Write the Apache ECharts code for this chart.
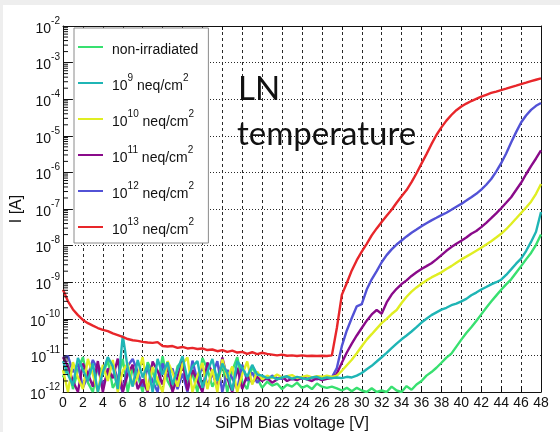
<!DOCTYPE html>
<html>
<head>
<meta charset="utf-8">
<script src="https://cdn.jsdelivr.net/npm/echarts@6/dist/echarts.min.js"></script>
<style>
  html, body { margin: 0; padding: 0; background: #fff; }
  #chart { width: 560px; height: 432px; }
</style>
</head>
<body>
<div id="chart"></div>
<script>
// Bias voltage grid [V]
const voltage = [0,0.5,1,1.5,2,2.5,3,3.5,4,4.5,5,5.5,6,6.5,7,7.5,8,8.5,9,9.5,10,10.5,11,11.5,12,12.5,13,13.5,14,14.5,15,15.5,16,16.5,17,17.5,18,18.5,19,19.5,20,20.5,21,21.5,22,22.5,23,23.5,24,24.5,25,25.5,26,26.5,27,27.5,28,28.5,29,29.5,30,30.5,31,31.5,32,32.5,33,33.5,34,34.5,35,35.5,36,36.5,37,37.5,38,38.5,39,39.5,40,40.5,41,41.5,42,42.5,43,43.5,44,44.5,45,45.5,46,46.5,47,47.5,48];

// Measured current [A] per fluence, one value per voltage step
const currentNonIrradiated = [
  2.5e-12,6.0e-12,1.2e-12,4.0e-12,9.0e-12,1.8e-12,1.0e-12,5.5e-12,3.0e-12,7.5e-12,
  1.3e-12,2.2e-12,8.0e-12,1.0e-12,4.5e-12,2.8e-12,1.0e-12,6.5e-12,3.5e-12,1.5e-12,
  9.5e-12,2.0e-12,1.1e-12,5.0e-12,7.0e-12,1.6e-12,3.2e-12,1.0e-12,8.5e-12,4.2e-12,
  1.4e-12,2.6e-12,6.0e-12,1.0e-12,3.8e-12,9.0e-12,1.9e-12,1.2e-12,5.2e-12,2.4e-12,
  1.3e-12,1.9e-12,1.5e-12,1.7e-12,1.2e-12,1.6e-12,1.4e-12,1.8e-12,1.3e-12,1.5e-12,
  1.2e-12,1.7e-12,1.4e-12,1.3e-12,
  1.4e-12,1.26e-12,1.1e-12,1.3e-12,1.05e-12,1.3e-12,1.1e-12,1.0e-12,1.26e-12,1.0e-12,
  1.1e-12,1.0e-12,1.4e-12,1.1e-12,1.0e-12,1.45e-12,1.15e-12,1.6e-12,2.0e-12,2.8e-12,
  3.5e-12,4.6e-12,6.3e-12,8.7e-12,1.12e-11,1.74e-11,2.7e-11,4.1e-11,5.9e-11,8.7e-11,
  1.32e-10,2.0e-10,2.95e-10,4.3e-10,6.2e-10,8.7e-10,1.2e-9,1.82e-9,2.75e-9,4.2e-9,
  6.3e-9,1.05e-8,2.0e-8
];
const current1e9 = [
  7.0e-12,3.0e-12,1.5e-12,8.5e-12,4.0e-12,2.0e-12,6.0e-12,1.0e-12,3.5e-12,9.0e-12,
  5.0e-12,1.2e-12,3.5e-11,4.5e-12,1.4e-12,7.5e-12,2.5e-12,5.5e-12,1.0e-12,8.0e-12,
  3.0e-12,6.5e-12,1.6e-12,4.0e-12,9.5e-12,2.2e-12,5.0e-12,7.0e-12,1.3e-12,3.6e-12,
  8.0e-12,2.0e-12,6.0e-12,3.2e-12,1.1e-12,7.0e-12,4.5e-12,2.6e-12,5.5e-12,3.0e-12,
  2.8e-12,2.4e-12,2.6e-12,2.2e-12,2.5e-12,2.7e-12,2.3e-12,2.6e-12,2.4e-12,2.2e-12,
  2.5e-12,2.6e-12,2.3e-12,2.5e-12,
  2.4e-12,2.5e-12,2.4e-12,2.6e-12,2.5e-12,2.8e-12,3.3e-12,4.2e-12,5.2e-12,6.8e-12,
  8.9e-12,1.17e-11,1.58e-11,2.1e-11,2.75e-11,3.5e-11,4.5e-11,5.9e-11,7.9e-11,1.0e-10,
  1.26e-10,1.5e-10,1.78e-10,2.0e-10,2.35e-10,2.6e-10,3.0e-10,3.5e-10,4.4e-10,5.2e-10,
  6.3e-10,7.4e-10,8.7e-10,1.0e-9,1.17e-9,1.58e-9,2.24e-9,3.2e-9,4.4e-9,7.1e-9,
  1.26e-8,2.4e-8,8.3e-8
];
const current1e10 = [
  4.0e-12,1.0e-12,6.5e-12,2.5e-12,1.2e-12,8.0e-12,3.0e-12,1.0e-12,5.5e-12,2.0e-12,
  7.5e-12,1.0e-12,3.8e-12,6.0e-12,1.5e-12,2.6e-12,9.0e-12,1.1e-12,4.8e-12,2.2e-12,
  1.0e-12,7.0e-12,3.4e-12,1.4e-12,5.8e-12,8.8e-12,1.0e-12,2.8e-12,6.2e-12,1.2e-12,
  4.2e-12,1.0e-12,7.8e-12,2.4e-12,5.0e-12,1.0e-12,3.0e-12,6.8e-12,1.6e-12,3.6e-12,
  2.2e-12,2.8e-12,2.4e-12,3.0e-12,2.5e-12,2.7e-12,2.9e-12,2.4e-12,2.6e-12,2.8e-12,
  2.5e-12,2.7e-12,2.6e-12,2.8e-12,
  2.6e-12,2.8e-12,3.8e-12,5.4e-12,7.6e-12,1.15e-11,1.78e-11,2.7e-11,3.8e-11,5.4e-11,
  7.6e-11,1.0e-10,1.35e-10,1.74e-10,2.7e-10,4.0e-10,5.5e-10,7.2e-10,9.1e-10,1.12e-9,
  1.35e-9,1.58e-9,1.86e-9,2.3e-9,2.75e-9,3.4e-9,4.2e-9,5.0e-9,6.0e-9,7.2e-9,
  8.7e-9,1.07e-8,1.32e-8,1.66e-8,2.1e-8,2.8e-8,3.9e-8,5.5e-8,7.8e-8,1.1e-7,
  1.58e-7,2.6e-7,4.8e-7
];
const current1e11 = [
  9.0e-12,5.0e-12,2.0e-12,1.0e-12,6.0e-12,3.2e-12,1.4e-12,7.0e-12,1.0e-12,4.4e-12,
  2.4e-12,8.2e-12,1.0e-12,3.0e-12,5.6e-12,1.2e-12,2.2e-12,1.0e-12,6.8e-12,3.8e-12,
  1.6e-12,5.0e-12,1.0e-12,2.6e-12,7.2e-12,1.1e-12,4.0e-12,2.0e-12,1.0e-12,6.4e-12,
  3.4e-12,1.3e-12,8.8e-12,2.4e-12,1.0e-12,4.6e-12,1.2e-12,3.0e-12,1.8e-12,2.6e-12,
  2.0e-12,2.4e-12,1.8e-12,2.2e-12,2.6e-12,2.0e-12,2.3e-12,2.1e-12,2.5e-12,2.2e-12,
  2.0e-12,2.4e-12,2.1e-12,2.3e-12,
  2.4e-12,3.2e-12,6.3e-12,1.2e-11,2.1e-11,3.5e-11,5.6e-11,8.9e-11,1.32e-10,1.74e-10,
  1.38e-10,2.8e-10,4.6e-10,6.6e-10,8.9e-10,1.12e-9,1.48e-9,1.86e-9,2.3e-9,2.75e-9,
  3.3e-9,4.2e-9,5.5e-9,7.2e-9,9.1e-9,1.12e-8,1.35e-8,1.66e-8,2.1e-8,2.5e-8,
  3.2e-8,4.2e-8,5.6e-8,7.6e-8,1.05e-7,1.48e-7,2.1e-7,3.3e-7,5.2e-7,8.9e-7,
  1.48e-6,2.4e-6,4.0e-6
];
const current1e12 = [
  8.5e-12,9.5e-12,3.5e-12,6.0e-12,1.3e-12,2.8e-12,7.5e-12,4.0e-12,1.6e-12,3.0e-12,
  6.2e-12,2.2e-12,1.0e-12,5.2e-12,8.0e-12,3.6e-12,1.4e-12,4.6e-12,2.0e-12,1.0e-12,
  6.0e-12,2.6e-12,4.4e-12,1.2e-12,3.2e-12,1.0e-12,7.2e-12,2.0e-12,5.4e-12,1.5e-12,
  3.0e-12,7.0e-12,1.0e-12,4.0e-12,2.4e-12,1.2e-12,5.6e-12,2.0e-12,3.4e-12,1.8e-12,
  2.6e-12,2.2e-12,2.8e-12,2.4e-12,2.3e-12,2.6e-12,2.2e-12,2.5e-12,2.3e-12,2.7e-12,
  2.4e-12,2.2e-12,2.5e-12,2.4e-12,
  2.5e-12,4.5e-12,1.78e-11,4.8e-11,1.05e-10,2.2e-10,2.5e-10,6.3e-10,1.2e-9,2.0e-9,
  3.5e-9,5.5e-9,7.9e-9,1.07e-8,1.38e-8,1.78e-8,2.24e-8,2.75e-8,3.4e-8,4.1e-8,
  4.9e-8,5.75e-8,6.8e-8,7.9e-8,9.5e-8,1.15e-7,1.38e-7,1.7e-7,2.1e-7,2.6e-7,
  3.4e-7,4.6e-7,6.6e-7,1.05e-6,1.78e-6,3.3e-6,6.6e-6,1.26e-5,2.3e-5,3.6e-5,
  5.1e-5,6.6e-5,7.9e-5
];
const current1e13 = [
  6.2e-10,3.0e-10,1.8e-10,1.26e-10,9.3e-11,7.6e-11,6.5e-11,5.6e-11,5.0e-11,4.6e-11,
  4.0e-11,3.6e-11,3.2e-11,2.8e-11,2.6e-11,2.5e-11,2.35e-11,2.25e-11,2.2e-11,2.3e-11,
  1.8e-11,1.75e-11,1.8e-11,1.6e-11,1.7e-11,1.55e-11,1.6e-11,1.5e-11,1.55e-11,1.4e-11,
  1.45e-11,1.3e-11,1.4e-11,1.25e-11,1.35e-11,1.2e-11,1.25e-11,1.1e-11,1.22e-11,1.08e-11,
  1.18e-11,1.1e-11,1.05e-11,1.0e-11,1.05e-11,9.8e-12,1.0e-11,9.6e-12,1.0e-11,9.6e-12,
  9.8e-12,9.6e-12,9.8e-12,9.6e-12,1.0e-11,5.6e-11,4.5e-10,9.5e-10,2.1e-9,4.0e-9,
  6.8e-9,1.12e-8,1.9e-8,2.95e-8,4.4e-8,6.5e-8,9.5e-8,1.48e-7,2.24e-7,3.3e-7,
  5.4e-7,9.5e-7,1.74e-6,3.16e-6,5.9e-6,1.05e-5,1.7e-5,2.6e-5,3.7e-5,5.0e-5,
  6.3e-5,7.6e-5,8.9e-5,1.02e-4,1.17e-4,1.32e-4,1.48e-4,1.62e-4,1.78e-4,1.95e-4,
  2.14e-4,2.34e-4,2.57e-4,2.82e-4,3.1e-4,3.4e-4,3.7e-4
];

// Legend entries (in legend order) and their line colours
const seriesNames = ['non-irradiated', '10^9 neq/cm^2', '10^10 neq/cm^2', '10^11 neq/cm^2', '10^12 neq/cm^2', '10^13 neq/cm^2'];
const seriesColors = ['#38e070', '#1fb5b5', '#e0ee22', '#8a0a8a', '#5252d6', '#e8262a'];
const seriesValues = [currentNonIrradiated, current1e9, current1e10, current1e11, current1e12, current1e13];
// drawing order: later ones on top
const drawOrder = [0, 4, 3, 2, 1, 5];

// Axis ranges and ticks
const voltageMin = 0, voltageMax = 48, voltageStep = 2;
const currentMin = 1e-12, currentMax = 1e-2;

// ROOT-style minor ticks at 2..9 within each decade
const minorTickValues = [];
for (let k = -12; k < -2; k++) {
  for (let m = 2; m <= 9; m++) minorTickValues.push(m * Math.pow(10, k));
}

const chart = echarts.init(document.getElementById('chart'), null, { renderer: 'canvas' });

const supRich = {
  t: { fontFamily: 'Liberation Sans', fontSize: 14, color: '#111', lineHeight: 20, verticalAlign: 'bottom' },
  s: { fontFamily: 'Liberation Sans', fontSize: 10, color: '#111', lineHeight: 20, verticalAlign: 'top' }
};

function richName(name) {
  return '{t|' + name.replace(/\^(\d+)/g, '}{s|$1}{t|') + '}';
}

const lineSeries = drawOrder.map(function (i) {
  return {
    name: seriesNames[i],
    type: 'line',
    data: voltage.map(function (v, j) { return [v, seriesValues[i][j]]; }),
    symbol: 'none',
    showSymbol: false,
    clip: true,
    lineStyle: { color: seriesColors[i], width: 2.4 },
    itemStyle: { color: seriesColors[i] },
    z: 3
  };
});

const minorTickSeries = {
  type: 'custom',
  name: 'minorTicks',
  silent: true,
  data: minorTickValues.map(function (v) { return [voltageMin, v]; }),
  renderItem: function (params, api) {
    const p = api.coord([api.value(0), api.value(1)]);
    return {
      type: 'line',
      shape: { x1: p[0], y1: p[1], x2: p[0] + 5, y2: p[1] },
      style: { stroke: '#111', lineWidth: 1 }
    };
  },
  z: 4
};

const option = {
  animation: false,
  backgroundColor: '#ffffff',
  grid: { left: 63, right: 19, top: 26, bottom: 40, outerBoundsMode: 'none', containLabel: false },
  legend: {
    data: seriesNames,
    orient: 'vertical',
    left: 74,
    top: 28,
    icon: 'rect',
    itemWidth: 25,
    itemHeight: 2,
    itemGap: 16,
    padding: [15, 10, 6, 4],
    backgroundColor: '#ffffff',
    borderColor: '#8a8a8a',
    borderWidth: 1,
    borderRadius: 0,
    selectedMode: false,
    formatter: richName,
    textStyle: { fontFamily: 'Liberation Sans', fontSize: 14, color: '#111', padding: [0, 0, 0, 4], rich: supRich }
  },
  xAxis: [
    {
      type: 'value',
      min: voltageMin, max: voltageMax, interval: voltageStep,
      position: 'bottom',
      name: 'SiPM Bias voltage [V]',
      nameLocation: 'middle',
      nameGap: 24,
      nameMoveOverlap: false,
      nameTextStyle: { fontFamily: 'Liberation Sans', fontSize: 16, color: '#111', padding: [0, 20, 0, 0] },
      axisLine: { show: true, onZero: false, lineStyle: { color: '#111', width: 1 } },
      axisTick: { show: true, inside: true, length: 6, lineStyle: { color: '#111' } },
      axisLabel: { fontFamily: 'Liberation Sans', fontSize: 14, color: '#111', margin: 4, hideOverlap: false, showMinLabel: true, showMaxLabel: true },
      splitLine: { show: true, lineStyle: { color: '#2a2a2a', width: 1, type: [3, 3] } }
    },
    {
      type: 'value',
      min: voltageMin, max: voltageMax, interval: voltageStep,
      position: 'top',
      axisLine: { show: true, onZero: false, lineStyle: { color: '#111', width: 1 } },
      axisTick: { show: true, inside: true, length: 4, lineStyle: { color: '#111' } },
      axisLabel: { show: false },
      splitLine: { show: false }
    }
  ],
  yAxis: [
    {
      type: 'log',
      logBase: 10,
      min: currentMin, max: currentMax,
      splitNumber: 10,
      position: 'left',
      name: 'I [A]',
      nameLocation: 'middle',
      nameRotate: 90,
      nameGap: 38,
      nameMoveOverlap: false,
      nameTextStyle: { fontFamily: 'Liberation Sans', fontSize: 16, color: '#111' },
      axisLine: { show: true, onZero: false, lineStyle: { color: '#111', width: 1 } },
      axisTick: { show: true, inside: true, length: 9, lineStyle: { color: '#111' } },
      axisLabel: {
        margin: 3,
        hideOverlap: false,
        showMinLabel: true, showMaxLabel: true,
        formatter: function (v) {
          return '{t|10}{s|' + Math.round(Math.log10(v)) + '}';
        },
        rich: supRich
      },
      splitLine: { show: true, lineStyle: { color: '#2a2a2a', width: 1, type: [1, 2] } }
    },
    {
      type: 'log',
      logBase: 10,
      min: currentMin, max: currentMax,
      splitNumber: 10,
      position: 'right',
      axisLine: { show: true, onZero: false, lineStyle: { color: '#111', width: 1 } },
      axisTick: { show: false },
      axisLabel: { show: false },
      splitLine: { show: false }
    }
  ],
  series: lineSeries.concat([minorTickSeries]),
  graphic: [
    { type: 'rect', silent: true, z: -10, shape: { x: 0, y: 0, width: 560, height: 5 }, style: { fill: '#eeeeee' } },
    { type: 'rect', silent: true, z: -10, shape: { x: 0, y: 0, width: 3, height: 432 }, style: { fill: '#eeeeee' } },
    { type: 'text', left: 238, top: 73, z: 10, style: { text: 'LN', font: '33px Lato', fill: '#111' } },
    { type: 'text', left: 237, top: 118, z: 10, style: { text: 'temperature', font: '33px Lato', fill: '#111' } }
  ]
};

chart.setOption(option);
</script>
</body>
</html>
